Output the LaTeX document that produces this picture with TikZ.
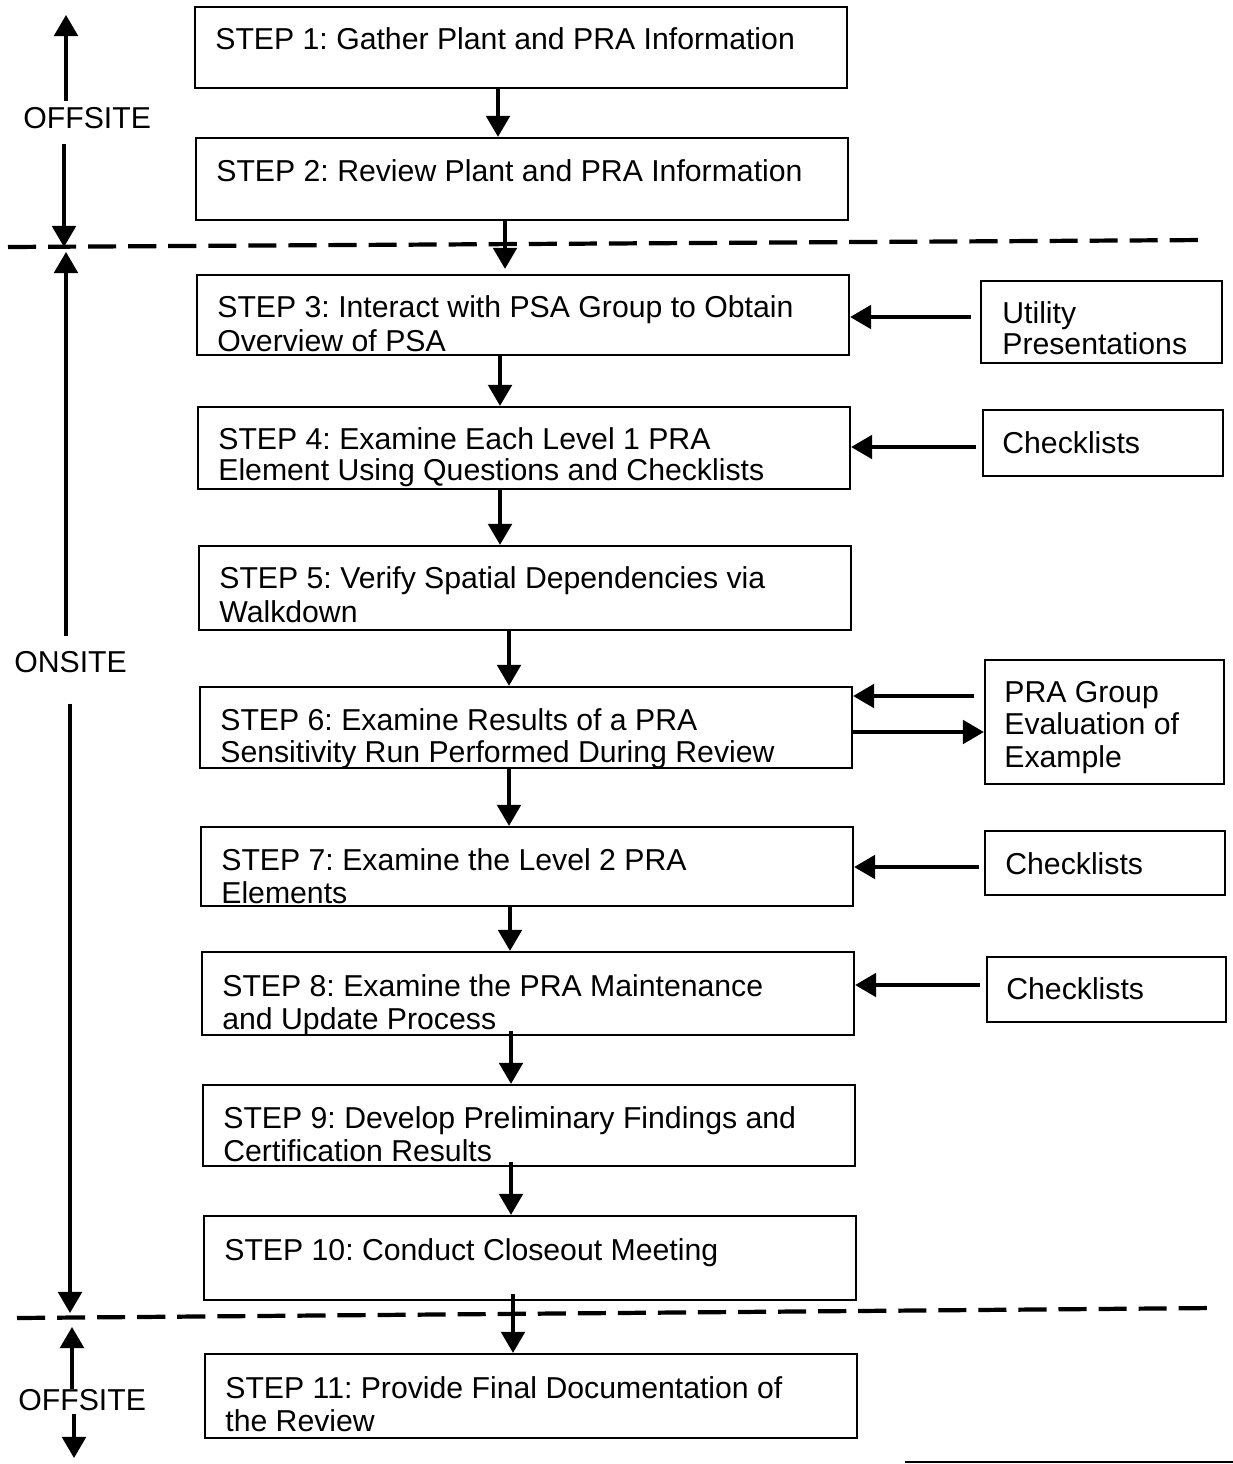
\documentclass[tikz,border=0pt]{standalone}
\usepackage{fontspec}
\setmainfont{Liberation Sans}
\usetikzlibrary{arrows.meta,fit}
\frenchspacing
\begin{document}
\begin{tikzpicture}[x=0.02cm,y=-0.02cm]
\tikzset{
 box/.style={draw, line width=1.3pt, inner sep=0pt, rectangle},
 txt/.style={font=\fontsize{17.2}{20}\selectfont, inner sep=0pt, anchor=base west},
 arr/.style={line width=1.9pt, -{Triangle[length=12pt,width=13.5pt]}},
 dashline/.style={line width=2.4pt, dash pattern=on 16pt off 6.8pt},
}
\useasboundingbox (0,0) rectangle (1233,1464);
\fill[white] (0,0) rectangle (1233,1464);

% step boxes
\node[box, fit={(195,7) (847,88)}] (s1) {};
\node[box, fit={(196,138) (848,220)}] (s2) {};
\node[box, fit={(197,275) (849,355)}] (s3) {};
\node[box, fit={(198,407) (850,489)}] (s4) {};
\node[box, fit={(199,546) (851,630)}] (s5) {};
\node[box, fit={(200,687) (852,768)}] (s6) {};
\node[box, fit={(201,827) (853,906)}] (s7) {};
\node[box, fit={(202,952) (854,1035)}] (s8) {};
\node[box, fit={(203,1085) (855,1166)}] (s9) {};
\node[box, fit={(204,1216) (856,1300)}] (s10) {};
\node[box, fit={(205,1354) (857,1438)}] (s11) {};
% side boxes
\node[box, fit={(981,281) (1222,363)}] (u) {};
\node[box, fit={(983,410) (1223,476)}] (c1) {};
\node[box, fit={(985,660) (1224,784)}] (g) {};
\node[box, fit={(985,831) (1225,895)}] (c2) {};
\node[box, fit={(987,957) (1226,1022)}] (c3) {};

% texts
\node[txt] (t1) at (215,49) {STEP 1: Gather Plant and PRA Information};
\node[txt] (t2) at (216,181) {STEP 2: Review Plant and PRA Information};
\node[txt] (t3a) at (217,317) {STEP 3: Interact with PSA Group to Obtain};
\node[txt] (t3b) at (217,351) {Overview of PSA};
\node[txt] (t4a) at (218,449) {STEP 4: Examine Each Level 1 PRA};
\node[txt] (t4b) at (218,480) {Element Using Questions and Checklists};
\node[txt] (t5a) at (219,588) {STEP 5: Verify Spatial Dependencies via};
\node[txt] (t5b) at (219,622) {Walkdown};
\node[txt] (t6a) at (220,730) {STEP 6: Examine Results of a PRA};
\node[txt] (t6b) at (220,762) {Sensitivity Run Performed During Review};
\node[txt] (t7a) at (221,870) {STEP 7: Examine the Level 2 PRA};
\node[txt] (t7b) at (221,903) {Elements};
\node[txt] (t8a) at (222,996) {STEP 8: Examine the PRA Maintenance};
\node[txt] (t8b) at (222,1029) {and Update Process};
\node[txt] (t9a) at (223,1128) {STEP 9: Develop Preliminary Findings and};
\node[txt] (t9b) at (223,1161) {Certification Results};
\node[txt] (t10) at (224,1260) {STEP 10: Conduct Closeout Meeting};
\node[txt] (t11a) at (225,1398) {STEP 11: Provide Final Documentation of};
\node[txt] (t11b) at (225,1431) {the Review};
\node[txt] (tua) at (1002,323) {Utility};
\node[txt] (tub) at (1002,354) {Presentations};
\node[txt] (tc1) at (1002,453) {Checklists};
\node[txt] (tga) at (1004,702) {PRA Group};
\node[txt] (tgb) at (1004,734) {Evaluation of};
\node[txt] (tgc) at (1004,767) {Example};
\node[txt] (tc2) at (1005,874) {Checklists};
\node[txt] (tc3) at (1006,999) {Checklists};

% left labels
\node[txt] (off1) at (23,128) {OFFSITE};
\node[txt] (on) at (14,672) {ONSITE};
\node[txt] (off2) at (18,1410) {OFFSITE};

% dashed separators
\coordinate (d1a) at (8,247);
\coordinate (d1b) at (1208,240);
\coordinate (d2a) at (17,1318);
\coordinate (d2b) at (1215,1308);
\draw[dashline] (d1a) -- (d1b);
\draw[dashline] (d2a) -- (d2b);

% vertical flow arrows
\path ([xshift=-0.46cm]s1.south) coordinate (v1);
\draw[arr] (v1) -- (v1 |- s2.north);
\path ([xshift=-0.34cm]s2.south) coordinate (v2);
\draw[arr] (v2) -- ([yshift=0.1cm]v2 |- s3.north);
\path ([xshift=-0.46cm]s3.south) coordinate (v3);
\draw[arr] (v3) -- (v3 |- s4.north);
\path ([xshift=-0.48cm]s4.south) coordinate (v4);
\draw[arr] (v4) -- (v4 |- s5.north);
\path ([xshift=-0.32cm]s5.south) coordinate (v5);
\draw[arr] (v5) -- (v5 |- s6.north);
\path ([xshift=-0.34cm]s6.south) coordinate (v6);
\draw[arr] (v6) -- (v6 |- s7.north);
\path ([xshift=-0.34cm]s7.south) coordinate (v7);
\draw[arr] (v7) -- (v7 |- s8.north);
\path ([xshift=-0.34cm,yshift=0.1cm]s8.south) coordinate (v8);
\draw[arr] (v8) -- (v8 |- s9.north);
\path ([xshift=-0.36cm,yshift=0.1cm]s9.south) coordinate (v9);
\draw[arr] (v9) -- (v9 |- s10.north);
\path ([xshift=-0.34cm,yshift=0.14cm]s10.south) coordinate (v10);
\draw[arr] (v10) -- (v10 |- s11.north);

% side arrows
\path (u.west) ++(0,-5) coordinate (ua);
\draw[arr, shorten <=5.1pt] (ua) -- (ua -| s3.east);
\path (c1.west) ++(0,4) coordinate (c1a);
\draw[arr, shorten <=3.4pt] (c1a) -- (c1a -| s4.east);
\path (g.west) ++(0,-26) coordinate (ga);
\draw[arr, shorten <=5.7pt] (ga) -- (ga -| s6.east);
\path (g.west) ++(0,10) coordinate (gb);
\draw[arr] (gb -| s6.east) -- (gb);
\path (c2.west) ++(0,4) coordinate (c2a);
\draw[arr, shorten <=2.8pt] (c2a) -- (c2a -| s7.east);
\path (c3.west) ++(0,-4.5) coordinate (c3a);
\draw[arr, shorten <=3.4pt] (c3a) -- (c3a -| s8.east);

% left range arrows
\coordinate (o1up) at (66,15);
\coordinate (o1dn) at (64,247);
\coordinate (onup) at (66,252);
\coordinate (ondn) at (70,1313);
\coordinate (o2up) at (72,1327);
\coordinate (o2dn) at (74,1458);
\draw[arr, shorten <=3.4pt] (off1.north -| o1up) -- (o1up);
\draw[arr, shorten <=8.5pt] (off1.south -| o1dn) -- (o1dn);
\draw[arr, shorten <=8.5pt] (on.north -| onup) -- (onup);
\draw[arr, shorten <=17.6pt] (on.south -| ondn) -- (ondn);
\draw[arr] (off2.north -| o2up) -- (o2up);
\draw[arr, shorten <=1.7pt] (off2.south -| o2dn) -- (o2dn);

% bottom-right page edge line
\coordinate (ea) at (905,1462);
\coordinate (eb) at (1233,1462);
\draw[line width=1pt] (ea) -- (eb);
\end{tikzpicture}
\end{document}
